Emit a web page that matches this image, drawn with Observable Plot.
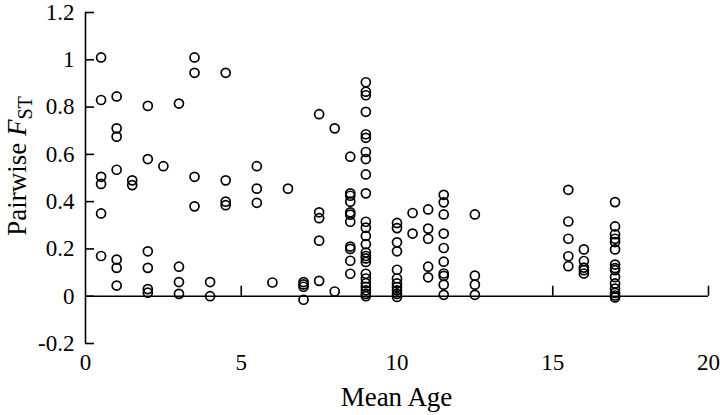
<!DOCTYPE html>
<html><head><meta charset="utf-8">
<script src="https://cdn.jsdelivr.net/npm/d3@7"></script>
<script src="https://cdn.jsdelivr.net/npm/@observablehq/plot@0.6"></script>
<style>
html,body{margin:0;padding:0;background:#fff;}
#chart{width:720px;height:415px;}
</style></head><body><div id="chart"></div>
<script>
// Mean age groups and the pairwise FST values observed at each
const ages = [0.5, 1, 1.5, 2, 2.5, 3, 3.5, 4, 4.5, 5.5, 6, 6.5, 7, 7.5, 8, 8.5, 9, 10, 10.5, 11, 11.5, 12.5, 15.5, 16, 17];
const fstByAge = [
  [1.01, 0.83, 0.505, 0.475, 0.35, 0.17],
  [0.845, 0.71, 0.675, 0.535, 0.155, 0.12, 0.045],
  [0.49, 0.47],
  [0.805, 0.58, 0.19, 0.12, 0.03, 0.015],
  [0.55],
  [0.815, 0.125, 0.06, 0.01],
  [1.01, 0.945, 0.505, 0.38],
  [0.06, 0.0],
  [0.945, 0.49, 0.40, 0.385],
  [0.55, 0.455, 0.395],
  [0.058],
  [0.455],
  [0.06, 0.05, 0.04, -0.015],
  [0.77, 0.355, 0.33, 0.235, 0.065],
  [0.71, 0.02],
  [0.59, 0.435, 0.425, 0.40, 0.355, 0.345, 0.315, 0.21, 0.20, 0.15, 0.095],
  [0.905, 0.865, 0.85, 0.78, 0.685, 0.67, 0.61, 0.58, 0.515, 0.435, 0.315, 0.29, 0.255, 0.22, 0.185, 0.17, 0.16, 0.145, 0.095, 0.075, 0.055, 0.04, 0.025, 0.01, 0.0],
  [0.31, 0.288, 0.228, 0.19, 0.112, 0.075, 0.054, 0.039, 0.025, 0.01, -0.003],
  [0.352, 0.265],
  [0.367, 0.286, 0.243, 0.125, 0.08],
  [0.429, 0.397, 0.346, 0.265, 0.204, 0.146, 0.096, 0.086, 0.049, 0.006],
  [0.346, 0.087, 0.049, 0.006],
  [0.45, 0.316, 0.243, 0.169, 0.127],
  [0.198, 0.149, 0.121, 0.11, 0.096],
  [0.398, 0.295, 0.262, 0.243, 0.229, 0.198, 0.134, 0.119, 0.11, 0.081, 0.054, 0.032, 0.014, 0.003, -0.005]
];
const xTicks = [0, 5, 10, 15, 20];
const xTickLabels = ["0", "5", "10", "15", "20"];
const yTicks = [-0.2, 0, 0.2, 0.4, 0.6, 0.8, 1, 1.2];
const yTickLabels = ["-0.2", "0", "0.2", "0.4", "0.6", "0.8", "1", "1.2"];
const xTitle = "Mean Age";
const yTitleParts = ["Pairwise ", "F", "ST"];

const points = ages.flatMap((a, i) => fstByAge[i].map(v => ({age: a, fst: v})));

const font = "Liberation Serif, Times New Roman, serif";
const W = 720, H = 415, mL = 85, mR = 12, mT = 12, mB = 72;
const ink = "#000";
const axisW = 1.6;

const chart = Plot.plot({
  width: W, height: H,
  marginLeft: mL, marginRight: mR, marginTop: mT, marginBottom: mB,
  style: {fontFamily: font, fontSize: "23px", color: ink, background: "#fff"},
  x: {domain: [0, 20]},
  y: {domain: [-0.2, 1.2]},
  marks: [
    Plot.axisX(xTicks, {anchor: "bottom", tickSize: 0, tickPadding: 10, fontSize: 23, fill: ink,
      tickFormat: d => xTickLabels[xTicks.indexOf(d)], label: null}),
    Plot.axisY(yTicks, {anchor: "left", tickSize: 0, tickPadding: 11, fontSize: 23, fill: ink,
      tickFormat: d => yTickLabels[yTicks.indexOf(d)], label: null}),
    Plot.ruleX([0], {stroke: ink, strokeWidth: axisW}),
    Plot.ruleY([0], {stroke: ink, strokeWidth: axisW}),
    Plot.ruleY(yTicks, {x1: 0, x2: 0, insetRight: -9, stroke: ink, strokeWidth: axisW}),
    Plot.ruleX(xTicks.filter(d => d > 0), {y1: 0, y2: 0, insetTop: -10, stroke: ink, strokeWidth: axisW}),
    Plot.dot(points, {x: "age", y: "fst", r: 4.5, stroke: ink, strokeWidth: 1.7, fill: "none"})
  ]
});

const svg = d3.select(chart);
svg.selectAll("text").style("font-family", font);

svg.append("text")
  .attr("x", (mL + W - mR) / 2).attr("y", 406)
  .attr("text-anchor", "middle").attr("fill", ink)
  .style("font-family", font).style("font-size", "27px")
  .text(xTitle);

const yt = svg.append("text")
  .attr("transform", "translate(26,166) rotate(-90)")
  .attr("text-anchor", "middle").attr("fill", ink)
  .style("font-family", font).style("font-size", "27px");
yt.append("tspan").text(yTitleParts[0]);
yt.append("tspan").attr("font-style", "italic").text(yTitleParts[1]);
yt.append("tspan").attr("dy", 6).attr("font-size", "20px").text(yTitleParts[2]);

document.getElementById("chart").appendChild(chart);
</script>
</body></html>
